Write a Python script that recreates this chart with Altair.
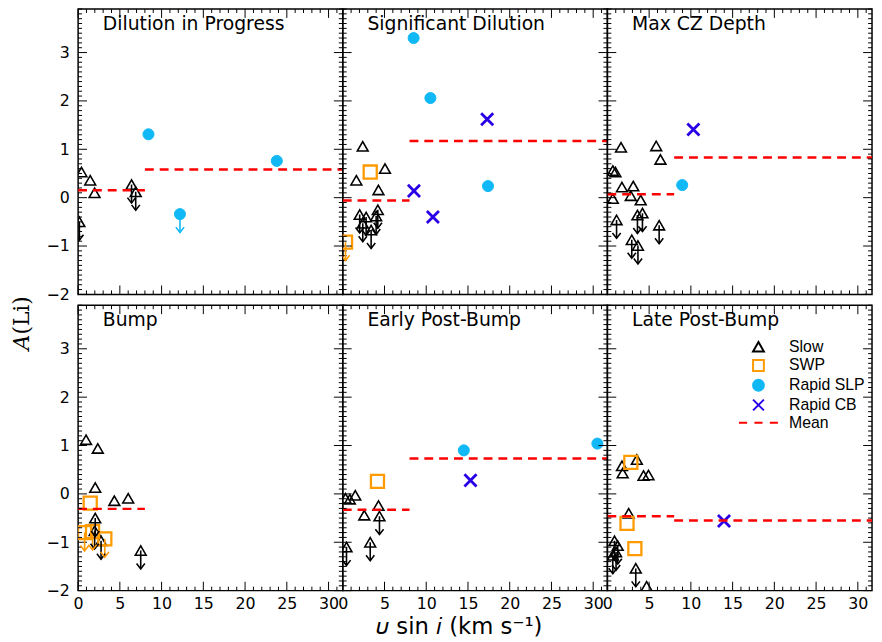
import altair as alt
import pandas as pd

PANELS = ["Dilution in Progress", "Significant Dilution", "Max CZ Depth",
          "Bump", "Early Post-Bump", "Late Post-Bump"]
CLASSES = ["Slow", "SWP", "Rapid SLP", "Rapid CB", "Mean"]

# ---- Slow rotators (triangles); lim=1 -> upper limit
slow_panel = [0, 0, 0, 0, 0, 0,
              1, 1, 1, 1, 1, 1, 1, 1, 1, 1,
              2, 2, 2, 2, 2, 2, 2, 2, 2, 2, 2, 2, 2, 2, 2, 2,
              3, 3, 3, 3, 3, 3, 3, 3, 3,
              4, 4, 4, 4, 4, 4, 4, 4,
              5, 5, 5, 5, 5, 5, 5, 5, 5, 5, 5, 5]
slow_v = [0.4, 1.45, 1.97, 6.4, 6.9, 0.15,
          2.39, 1.63, 5.06, 4.28, 2.03, 2.8, 4.2, 2.4, 4.0, 3.4,
          1.63, 5.85, 6.36, 0.65, 0.96, 1.74, 3.1, 2.8, 3.99, 0.65, 1.1, 3.6, 4.2, 6.2, 2.92, 3.66,
          0.95, 2.36, 2.05, 4.34, 6.0, 2.05, 1.98, 2.75, 7.5,
          0.33, 0.85, 1.5, 2.58, 4.28, 4.4, 0.45, 3.29,
          1.75, 1.83, 3.53, 4.33, 4.92, 2.55, 0.85, 1.24, 1.04, 0.65, 3.4, 4.7]
slow_a = [0.53, 0.36, 0.10, 0.27, 0.12, -0.50,
          1.06, 0.36, 0.60, 0.16, -0.35, -0.40, -0.25, -0.53, -0.38, -0.67,
          1.04, 1.07, 0.79, 0.56, 0.53, 0.22, 0.24, 0.04, -0.05, -0.02, -0.46, -0.36, -0.32, -0.57, -0.87, -0.99,
          1.12, 0.94, 0.13, -0.14, -0.09, -0.50, -0.76, -0.97, -1.17,
          -0.09, -0.11, -0.03, -0.44, -0.24, -0.46, -1.10, -1.00,
          0.58, 0.43, 0.71, 0.38, 0.39, -0.40, -0.97, -1.07, -1.20, -1.27, -1.54, -1.91]
slow_lim = [0, 0, 0, 1, 1, 1,
            0, 0, 0, 0, 1, 1, 1, 1, 1, 1,
            0, 0, 0, 0, 0, 0, 0, 0, 0, 0, 1, 1, 1, 1, 1, 1,
            0, 0, 0, 0, 0, 1, 1, 1, 1,
            0, 0, 0, 0, 0, 1, 1, 1,
            0, 0, 0, 0, 0, 0, 1, 1, 1, 1, 1, 0]

# ---- SWP (squares)
swp_panel = [1, 1, 3, 3, 3, 3, 4, 5, 5, 5]
swp_v = [3.29, 0.33, 1.45, 0.78, 1.73, 3.2, 4.16, 2.81, 2.35, 3.29]
swp_a = [0.53, -0.92, -0.19, -0.80, -0.78, -0.93, 0.26, 0.65, -0.61, -1.13]
swp_lim = [0, 1, 0, 1, 1, 1, 0, 0, 0, 0]

# ---- Rapid SLP (filled circles)
slp_panel = [0, 0, 0, 1, 1, 1, 2, 4, 4]
slp_v = [8.43, 23.8, 12.2, 8.49, 10.5, 17.4, 8.96, 14.5, 30.5]
slp_a = [1.31, 0.76, -0.34, 3.30, 2.06, 0.24, 0.26, 0.90, 1.04]
slp_lim = [0, 0, 1, 0, 0, 0, 0, 0, 0]

# ---- Rapid CB (crosses)
cb_panel = [1, 1, 1, 2, 4, 5]
cb_v = [17.3, 8.53, 10.8, 10.3, 15.3, 13.97]
cb_a = [1.62, 0.14, -0.40, 1.41, 0.28, -0.56]
cb_lim = [0, 0, 0, 0, 0, 0]

# ---- Means (slow: 0-8, rapid: 8-edge)
mean_panel = [0, 0, 1, 1, 2, 2, 3, 4, 4, 5, 5]
mean_x0 = [0, 8, 0, 8, 0, 8, 0, 0, 8, 0, 8]
mean_x1 = [8, 32, 8, 32, 8, 32, 8, 8, 32, 8, 32]
mean_a = [0.155, 0.58, -0.06, 1.17, 0.07, 0.83, -0.31, -0.33, 0.73, -0.46, -0.55]

# ---- axis ticks
X_MAJOR = [0, 5, 10, 15, 20, 25, 30]
X_MINOR = [v for v in range(0, 32) if v % 5 != 0]
Y_MAJOR = [-2, -1, 0, 1, 2, 3]
Y_MINOR = [round(-2 + k * 0.1, 1) for k in range(0, 60) if k % 10 != 0]

XDOM = [0, 31.7]
YDOM = [-2, 3.9]
W, H = 268, 289
FONT = "DejaVu Sans"

XPATH = "M-1,-1L1,1M-1,1L1,-1"
MEANPATH = "M-3.6,0H-2.1M-0.75,0H0.75M2.1,0H3.6"
ARROW = "M-1,-1.3L0,0L1,-1.3"

rows = []
for cls, P, V, A, L in [("Slow", slow_panel, slow_v, slow_a, slow_lim),
                        ("SWP", swp_panel, swp_v, swp_a, swp_lim),
                        ("Rapid SLP", slp_panel, slp_v, slp_a, slp_lim),
                        ("Rapid CB", cb_panel, cb_v, cb_a, cb_lim)]:
    for p, v, a, l in zip(P, V, A, L):
        rows.append({"panel": p, "cls": cls, "v": v, "a": a, "lim": l})
df = pd.DataFrame(rows)
mdf = pd.DataFrame({"panel": mean_panel, "x0": mean_x0, "x1": mean_x1, "a": mean_a})

shape_scale = alt.Scale(domain=CLASSES, range=["triangle-up", "square", "circle", XPATH, MEANPATH])
stroke_scale = alt.Scale(domain=CLASSES, range=["#000000", "#FF9A00", "#10B8F5", "#2A00E6", "#FF0000"])
fill_scale = alt.Scale(domain=CLASSES, range=["transparent", "transparent", "#10B8F5", "transparent", "transparent"])
size_scale = alt.Scale(type="ordinal", domain=CLASSES, range=[120, 175, 125, 150, 100])
sw_scale = alt.Scale(type="ordinal", domain=CLASSES, range=[1.6, 2.3, 1, 2.8, 2.5])

legend = alt.Legend(title=None, orient="none", legendX=145, legendY=34,
                    labelFont="Liberation Sans", labelFontSize=16, labelColor="black",
                    symbolSize=120, symbolStrokeWidth=2, labelOffset=23,
                    rowPadding=0, padding=0)

xs = alt.Scale(domain=XDOM, nice=False, zero=False)
ys = alt.Scale(domain=YDOM, nice=False, zero=False)


def make_panel(i):
    col, row = i % 3, i // 3
    if row == 1:
        xaxis = alt.Axis(values=X_MAJOR, ticks=False, domain=False, grid=False, title=None,
                         labelFlush=False, labelPadding=5, labelFont=FONT, labelFontSize=16,
                         labelColor="black")
    else:
        xaxis = None
    if col == 0:
        yaxis = alt.Axis(values=Y_MAJOR, ticks=False, domain=False, grid=False, title=None,
                         labelPadding=9, labelFont=FONT, labelFontSize=16, labelColor="black")
    else:
        yaxis = None
    leg = legend if i == 5 else None

    pdata = df[df.panel == i]
    X = alt.X("v:Q", scale=xs, axis=xaxis)
    Y = alt.Y("a:Q", scale=ys, axis=yaxis)

    mean = alt.Chart(mdf[mdf.panel == i]).mark_rule(
        color="#FF0000", strokeWidth=2.5, strokeDash=[9, 6], clip=True).encode(
        x=alt.X("x0:Q", scale=xs, axis=xaxis), x2="x1:Q", y=alt.Y("a:Q", scale=ys, axis=yaxis))

    ticks = []
    for vals, ln in [(X_MAJOR, 9), (X_MINOR, 4)]:
        d = pd.DataFrame({"t": vals})
        for y0, y1 in [(H, H - ln), (0, ln)]:
            ticks.append(alt.Chart(d).mark_rule(color="black", strokeWidth=1).encode(
                x=alt.X("t:Q", scale=xs, axis=xaxis), y=alt.value(y0), y2=alt.value(y1)))
    for vals, ln in [(Y_MAJOR, 9), (Y_MINOR, 4)]:
        d = pd.DataFrame({"t": vals})
        for x0, x1 in [(0, ln), (W, W - ln)]:
            ticks.append(alt.Chart(d).mark_rule(color="black", strokeWidth=1).encode(
                y=alt.Y("t:Q", scale=ys, axis=yaxis), x=alt.value(x0), x2=alt.value(x1)))

    base = alt.Chart(pdata)
    pts = base.mark_point(filled=False, opacity=1, clip=True).encode(
        x=X, y=Y,
        shape=alt.Shape("cls:N", scale=shape_scale, legend=leg),
        stroke=alt.Stroke("cls:N", scale=stroke_scale, legend=leg),
        fill=alt.Fill("cls:N", scale=fill_scale, legend=leg),
        size=alt.Size("cls:N", scale=size_scale, legend=None),
        strokeWidth=alt.StrokeWidth("cls:N", scale=sw_scale, legend=None),
    )
    lim = base.transform_filter(alt.datum.lim == 1).transform_calculate(a2="datum.a - 0.38")
    stem = lim.mark_rule(strokeWidth=1.6, clip=True).encode(
        x=X, y=Y, y2="a2:Q",
        stroke=alt.Stroke("cls:N", scale=stroke_scale, legend=None))
    head = lim.mark_point(shape=ARROW, size=70, strokeWidth=1.6, filled=False, opacity=1, clip=True).encode(
        x=X, y=alt.Y("a2:Q", scale=ys, axis=yaxis),
        stroke=alt.Stroke("cls:N", scale=stroke_scale, legend=None))

    label = alt.Chart(pd.DataFrame({"name": [PANELS[i]]})).mark_text(
        align="left", baseline="middle", font=FONT, fontSize=19, color="black").encode(
        x=alt.value(25), y=alt.value(15), text="name:N")

    layers = [pts, mean] + ticks + [stem, head, label]
    return alt.layer(*layers).properties(width=W, height=H)


indep = dict(shape="independent", stroke="independent", fill="independent")
top = alt.hconcat(*[make_panel(i) for i in range(3)], spacing=0, bounds="flush"
                  ).resolve_legend(**indep)
bottom = alt.hconcat(*[make_panel(i) for i in range(3, 6)], spacing=0, bounds="flush",
                     title=alt.TitleParams("𝜐 sin 𝑖 (km s⁻¹)", orient="bottom", anchor="middle",
                                           font=FONT, fontSize=23, fontWeight="normal",
                                           color="black", offset=4)
                     ).resolve_legend(**indep)
chart = alt.vconcat(top, bottom, spacing=0,
                    title=alt.TitleParams("𝐴(Li)", orient="left", anchor="middle",
                                          font="DejaVu Serif", fontSize=22, fontWeight="normal",
                                          color="black", offset=11)
                    ).resolve_scale(x="independent", y="independent").resolve_legend(**indep).configure_view(
    stroke="black", strokeWidth=1.5).properties(
    padding={"left": 3, "top": -5, "right": 0, "bottom": 0})

chart.save("out.html", embed_options={"renderer": "svg", "actions": False})
